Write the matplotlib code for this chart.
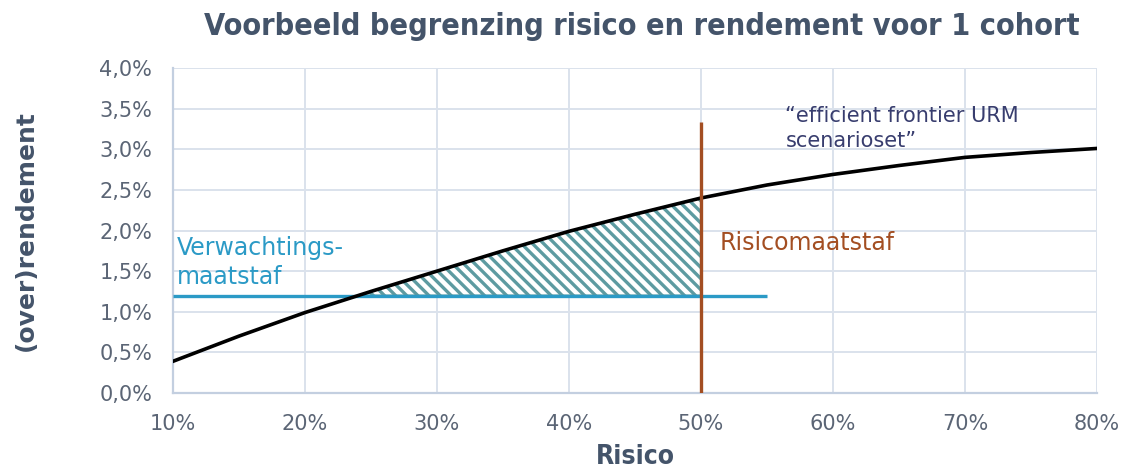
import numpy as np
import matplotlib
matplotlib.use("Agg")
import matplotlib.pyplot as plt
from matplotlib.ticker import FuncFormatter

# Efficient frontier (risk %, return %).
risico    = np.array([10, 15, 20, 25, 30, 35, 40, 45, 50, 55, 60, 65, 70, 75, 80])
rendement = np.array([0.39, 0.70, 0.99, 1.25, 1.50, 1.75, 1.99, 2.20, 2.40, 2.56, 2.69, 2.80, 2.90, 2.96, 3.01])

verwachtingsMaatstaf = 1.2          # horizontal line, %
verwachtingsEinde    = 55           # line ends at this risk, %
risicoMaatstaf       = 50           # vertical line, %
risicoLijnTop        = 3.33         # vertical line top, %

xTicks = [10, 20, 30, 40, 50, 60, 70, 80]
yTicks = [0.0, 0.5, 1.0, 1.5, 2.0, 2.5, 3.0, 3.5, 4.0]

titleColor = '#44546a'
tickColor  = '#5b6575'
gridColor  = '#dbe2ec'
blue       = '#2b9ac6'
brown      = '#a34e22'
teal       = '#5d9ba1'
navy       = '#383d6e'

plt.rcParams['font.family'] = ['DejaVu Sans']
plt.rcParams['hatch.linewidth'] = 2.4
plt.rcParams['hatch.color'] = teal

fig = plt.figure(figsize=(11.26, 4.71), dpi=100)
ax  = fig.add_axes([0.1536, 0.1656, 0.8206, 0.69])

# Hatched area between the frontier and the expectation line, up to the risk limit.
ax.fill_between(risico, rendement, verwachtingsMaatstaf,
                where=(rendement >= verwachtingsMaatstaf) & (risico <= risicoMaatstaf),
                interpolate=True, facecolor='white', edgecolor=teal, hatch='\\\\\\',
                linewidth=1.5, zorder=2)

ax.plot(risico, rendement, color='black', linewidth=2.6, zorder=4)
ax.plot([xTicks[0], verwachtingsEinde], [verwachtingsMaatstaf, verwachtingsMaatstaf],
        color=blue, linewidth=2.4, zorder=3, solid_capstyle='butt')
ax.plot([risicoMaatstaf, risicoMaatstaf], [0, risicoLijnTop],
        color=brown, linewidth=2.4, zorder=5, solid_capstyle='butt')

ax.set_xlim(10, 80)
ax.set_ylim(0, 4.0)
ax.set_xticks(xTicks)
ax.set_yticks(yTicks)
ax.xaxis.set_major_formatter(FuncFormatter(lambda v, p: f"{v:.0f}%"))
ax.yaxis.set_major_formatter(FuncFormatter(lambda v, p: f"{v:.1f}%".replace('.', ',')))
ax.tick_params(length=0, labelsize=15, labelcolor=tickColor)
ax.tick_params(axis='x', pad=15)
ax.tick_params(axis='y', pad=15)

ax.grid(True, color=gridColor, linewidth=1.4, zorder=0)
ax.set_axisbelow(True)
for side in ['top', 'right']:
    ax.spines[side].set_visible(False)
for side in ['left', 'bottom']:
    ax.spines[side].set_color('#c3cfe0')
    ax.spines[side].set_linewidth(1.6)

ax.set_xlabel('Risico', fontsize=19, fontweight='bold', fontstretch='condensed',
              color=titleColor, labelpad=7)
ax.set_ylabel('(over)rendement', fontsize=18, fontweight='bold', color=titleColor, labelpad=44)
fig.suptitle('Voorbeeld begrenzing risico en rendement voor 1 cohort', x=0.570, y=0.975,
             fontsize=22, fontweight='bold', fontstretch='condensed', color=titleColor)

ax.text(10.3, 1.93, 'Verwachtings-\nmaatstaf', fontsize=17, color=blue, va='top',
        linespacing=1.25)
ax.text(51.4, 1.85, 'Risicomaatstaf', fontsize=17, color=brown, va='center')
ax.text(56.4, 3.26, '\u201cefficient frontier URM\nscenarioset\u201d', fontsize=15,
        color=navy, va='center', linespacing=1.3)

fig.savefig('out.png', dpi=100)
